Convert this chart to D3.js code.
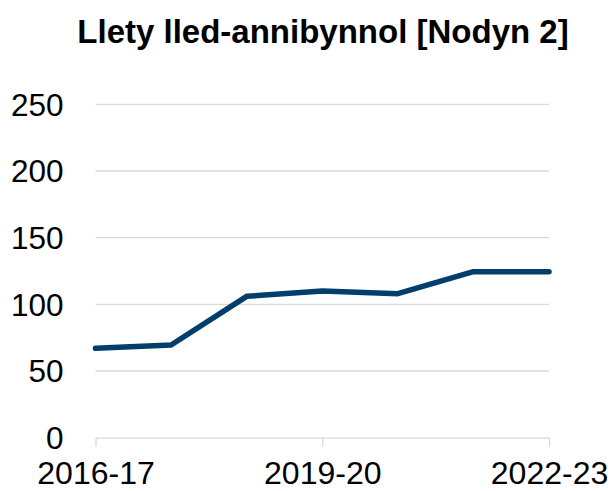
<!DOCTYPE html>
<html>
<head>
<meta charset="utf-8">
<script src="https://cdn.jsdelivr.net/npm/d3@7"></script>
<style>
  body { margin: 0; background: #fff; }
  text { font-family: "Liberation Sans", Arial, sans-serif; }
</style>
</head>
<body>
<div class="chart-area"></div>
<script>
let years = ["2016-17", "2017-18", "2018-19", "2019-20", "2020-21", "2021-22", "2022-23"];
let values = [67, 69.5, 106, 110, 108, 124.5, 124.5];
let yTicks = [0, 50, 100, 150, 200, 250];
let xTickLabels = ["2016-17", "2019-20", "2022-23"];
let title = "Llety lled-annibynnol [Nodyn 2]";

let data = years.map((y, i) => ({year: y, value: values[i]}));

let outerWidth = 613, outerHeight = 491;
let margin = {top: 104.3, right: 64, bottom: 53.3, left: 95.5};
let width = outerWidth - margin.left - margin.right,
    height = outerHeight - margin.top - margin.bottom;

let root = d3.select('.chart-area').append('svg')
    .attr('width', outerWidth)
    .attr('height', outerHeight);

let svg = root.append("g")
    .attr("transform", "translate(" + margin.left + "," + margin.top + ")");

let xScale = d3.scalePoint()
    .domain(years)
    .range([0, width]);

let yScale = d3.scaleLinear()
    .domain([0, 250])
    .range([height, 0]);

// gridlines
svg.append("g")
    .selectAll("line")
    .data(yTicks.filter(d => d > 0))
    .enter()
    .append("line")
    .attr("x1", 0)
    .attr("x2", width)
    .attr("y1", d => yScale(d))
    .attr("y2", d => yScale(d))
    .attr("stroke", "#d9d9d9")
    .attr("stroke-width", 1.3);

// y labels
svg.append("g")
    .selectAll("text")
    .data(yTicks)
    .enter()
    .append("text")
    .attr("x", -32)
    .attr("y", d => yScale(d))
    .attr("dy", "0.36em")
    .attr("text-anchor", "end")
    .attr("font-size", 31.5)
    .attr("fill", "#000")
    .text(d => d);

// x axis
let xAxis = d3.axisBottom(xScale)
    .tickValues(xTickLabels)
    .tickSize(9)
    .tickSizeOuter(0)
    .tickPadding(15);

let xaxis = svg.append("g")
    .attr("class", "axis x-axis")
    .attr("transform", `translate(0, ${height})`)
    .call(xAxis);

xaxis.select(".domain").attr("stroke", "#d9d9d9").attr("stroke-width", 1.3);
xaxis.selectAll(".tick line").attr("stroke", "#d9d9d9").attr("stroke-width", 1.3);
xaxis.selectAll(".tick text")
    .attr("font-size", 32)
    .attr("font-family", "Liberation Sans, Arial, sans-serif")
    .attr("fill", "#000");

// line
const line = d3.line()
    .x(d => xScale(d.year))
    .y(d => yScale(d.value));

svg.append("path")
    .datum(data)
    .attr("fill", "none")
    .attr("stroke", "#003f6b")
    .attr("stroke-width", 5.5)
    .attr("stroke-linejoin", "round")
    .attr("stroke-linecap", "round")
    .attr("d", line);

// title
root.append("text")
    .attr("x", 323)
    .attr("y", 43)
    .attr("text-anchor", "middle")
    .attr("font-size", 33)
    .attr("font-weight", "bold")
    .attr("fill", "#000")
    .text(title);
</script>
</body>
</html>
